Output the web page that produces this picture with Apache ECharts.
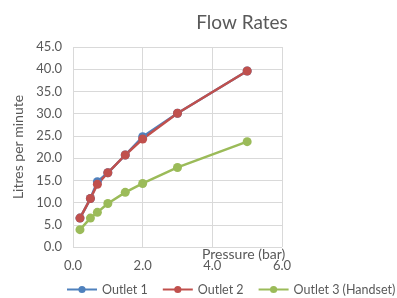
<!DOCTYPE html>
<html>
<head>
<meta charset="utf-8">
<script src="https://cdn.jsdelivr.net/npm/echarts@6/dist/echarts.min.js"></script>
<style>
  html, body { margin: 0; padding: 0; background: #fff; }
  #main { width: 397px; height: 298px; }
</style>
</head>
<body>
<div id="main"></div>
<script>
  var pressure = [0.2, 0.5, 0.7, 1.0, 1.5, 2.0, 3.0, 5.0];
  var outlet1 = [6.5, 10.9, 14.7, 16.7, 20.7, 24.8, 30.1, 39.6];
  var outlet2 = [6.5, 10.9, 14.1, 16.7, 20.7, 24.3, 30.1, 39.6];
  var outlet3 = [3.9, 6.5, 7.8, 9.8, 12.3, 14.3, 17.9, 23.7];
  var seriesNames = ['Outlet 1', 'Outlet 2', 'Outlet 3 (Handset)'];
  var colors = ['#4F81BD', '#C0504D', '#9BBB59'];

  function pairs(ys) {
    return pressure.map(function (x, i) { return [x, ys[i]]; });
  }

  var myChart = echarts.init(document.getElementById('main'));
  var font = 'Lato';
  var option = {
    color: colors,
    animation: false,
    title: {
      text: 'Flow Rates',
      left: 237,
      textAlign: 'center',
      top: 8,
      textStyle: { fontFamily: font, fontSize: 19, fontWeight: 'normal', color: '#595959' }
    },
    graphic: [{
      type: 'text',
      left: 202,
      top: 247,
      style: { text: 'Pressure (bar)', fontFamily: font, fontSize: 14, fill: '#595959' }
    }],
    legend: {
      data: seriesNames,
      bottom: 2,
      left: 66,
      width: 420,
      padding: 0,
      itemWidth: 30,
      itemHeight: 9,
      itemGap: 14,
      textStyle: { fontFamily: font, fontSize: 12.5, color: '#595959' }
    },
    grid: { left: 73, right: 115, top: 47, bottom: 51 },
    xAxis: {
      type: 'value',
      min: 0,
      max: 6,
      interval: 2,
      axisLine: { show: false },
      axisTick: { show: false },
      axisLabel: { fontFamily: font, fontSize: 13, color: '#595959', margin: 12, formatter: function (v) { return v.toFixed(1); } },
      splitLine: { show: true, lineStyle: { color: '#d9d9d9' } }
    },
    yAxis: {
      type: 'value',
      min: 0,
      max: 45,
      interval: 5,
      name: 'Litres per minute',
      nameLocation: 'middle',
      nameGap: 47,
      nameTextStyle: { fontFamily: font, fontSize: 14, color: '#595959' },
      axisLine: { show: false },
      axisTick: { show: false },
      axisLabel: { fontFamily: font, fontSize: 13, color: '#595959', margin: 11, formatter: function (v) { return v.toFixed(1); } },
      splitLine: { show: true, lineStyle: { color: '#d9d9d9' } }
    },
    series: [outlet1, outlet2, outlet3].map(function (ys, i) {
      return {
        name: seriesNames[i],
        type: 'line',
        data: pairs(ys),
        symbol: 'circle',
        symbolSize: 9,
        lineStyle: { width: 2.5 },
        itemStyle: { color: colors[i] }
      };
    })
  };
  myChart.setOption(option);
</script>
</body>
</html>
